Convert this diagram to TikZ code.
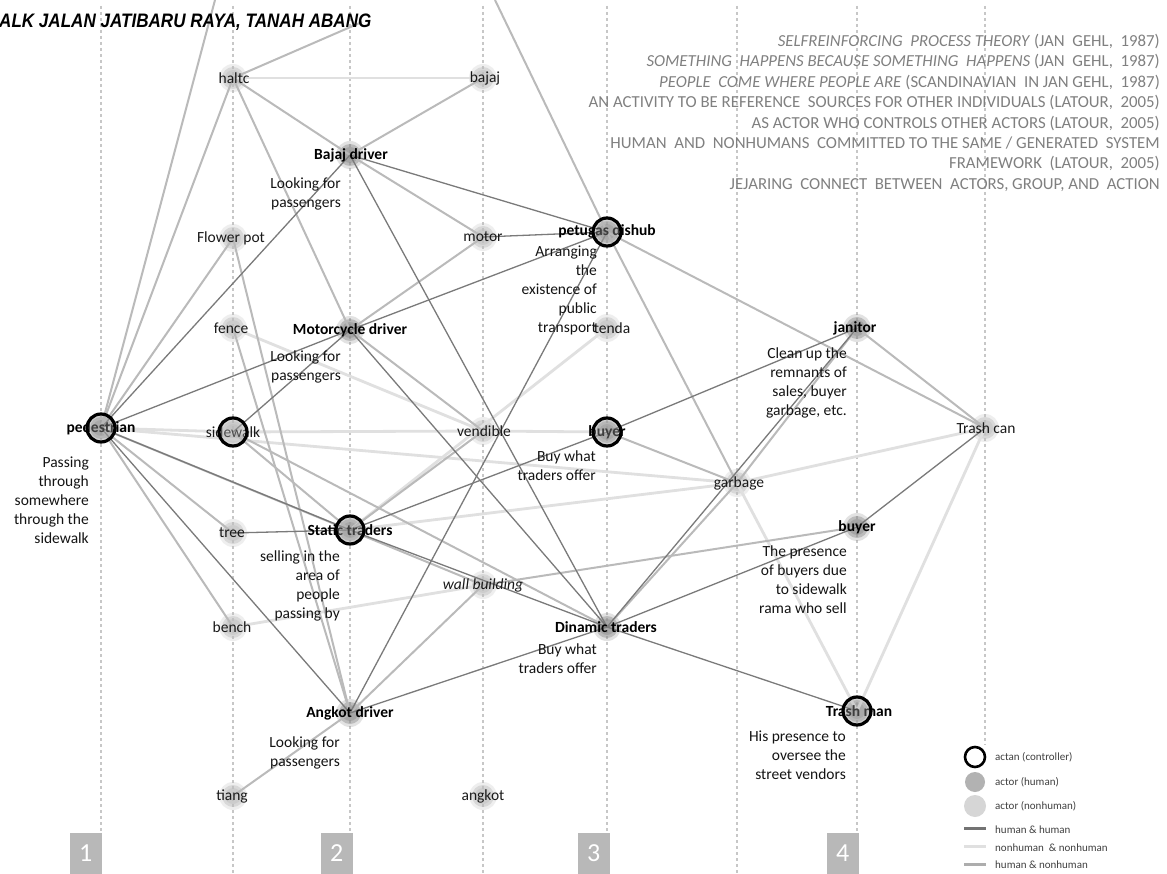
\documentclass[tikz,border=0pt]{standalone}
\usepackage{fontspec}
\setmainfont{Carlito}
\newfontfamily\titlefont{Liberation Sans}
\begin{document}
\begin{tikzpicture}[x=1pt,y=-1pt,
  lbl/.style={font=\fontsize{15.5}{18}\selectfont, inner sep=0pt, text=black!90},
  blbl/.style={font=\fontsize{15.5}{18}\selectfont\bfseries, inner sep=0pt},
  desc/.style={font=\fontsize{15.5}{18.8}\selectfont, align=right, inner sep=0pt, anchor=north east, text=black!92},
  hh/.style={draw=black!52, line width=1.3pt},
  hn/.style={draw=black!27, line width=2pt},
  nn/.style={draw=black!12, line width=2.8pt},
  col/.style={draw=black!22, line width=2.6pt, dash pattern=on 2.6pt off 3.4pt},
  ring/.style={draw=black, line width=3.2pt, fill=black!30, fill opacity=.35},
  numbox/.style={fill=black!28, draw=none, minimum width=32pt, minimum height=41pt, inner sep=0pt, anchor=south east, text=white, font=\fontsize{26}{26}\selectfont},
  legtxt/.style={font=\fontsize{11}{12}\selectfont, text=black!75, anchor=west, inner sep=0pt},
]
\useasboundingbox (0,0) rectangle (1167,874);
\fill[white] (0,0) rectangle (1167,874);

% dotted columns
\foreach \x in {101,233,350,483,607,737,857} \draw[col] (\x,6) -- (\x,874);
\draw[col] (985,6) -- (985,745);

% node centres
\coordinate (haltc) at (233,78);
\coordinate (bajaj) at (483,78);
\coordinate (bdrv) at (350,155);
\coordinate (fpot) at (233,238);
\coordinate (motor) at (483,237);
\coordinate (petugas) at (607,232);
\coordinate (fence) at (233,328);
\coordinate (mdrv) at (350,330);
\coordinate (tenda) at (607,328);
\coordinate (janitor) at (857,328);
\coordinate (ped) at (101,428);
\coordinate (sidewalk) at (233,432);
\coordinate (vendible) at (483,431);
\coordinate (buyerA) at (607,432);
\coordinate (trashcan) at (985,428);
\coordinate (garbage) at (737,483);
\coordinate (tree) at (233,533);
\coordinate (static) at (350,530);
\coordinate (buyerB) at (857,527);
\coordinate (wall) at (483,585);
\coordinate (bench) at (233,627);
\coordinate (dinamic) at (607,627);
\coordinate (angkotdrv) at (350,713);
\coordinate (trashman) at (857,711);
\coordinate (tiang) at (233,796);
\coordinate (angkot) at (483,796);
\coordinate (topA) at (215,0);
\coordinate (topB) at (362,22);
\coordinate (topC) at (495,0);

% blobs
\foreach \c in {bdrv,mdrv,petugas,janitor,ped,buyerA,static,buyerB,dinamic,angkotdrv,trashman} {
  \fill[black!45, opacity=.25] (\c) circle (14);
  \fill[black!45, opacity=.45] (\c) circle (11);
  \fill[black!45, opacity=.45] (\c) circle (8);
}
\foreach \c in {haltc,bajaj,fpot,motor,fence,tenda,sidewalk,vendible,trashcan,garbage,tree,wall,bench,tiang,angkot} {
  \fill[black!25, opacity=.25] (\c) circle (14);
  \fill[black!25, opacity=.45] (\c) circle (11);
  \fill[black!25, opacity=.45] (\c) circle (8);
}

% nonhuman & nonhuman
\draw[nn] (haltc) -- (bajaj);
\draw[nn] (ped) -- (sidewalk);
\draw[nn] (sidewalk) -- (vendible);
\draw[nn] (vendible) -- (buyerA);
\draw[nn] (garbage) -- (trashcan);
\draw[nn] (bench) -- (wall);
\draw[nn] (fence) -- (vendible);
\draw[nn] (tenda) -- (static);
\draw[nn] (trashman) -- (trashcan);
\draw[nn] (trashman) -- (garbage);
\draw[nn] (static) -- (garbage);
\draw[nn] (ped) -- (garbage);

% human & nonhuman
\draw[hn] (haltc) -- (bdrv);
\draw[hn] (haltc) -- (mdrv);
\draw[hn] (haltc) -- (ped);
\draw[hn] (haltc) -- (topB);
\draw[hn] (ped) -- (topA);
\draw[hn] (petugas) -- (topC);
\draw[hn] (bdrv) -- (bajaj);
\draw[hn] (bdrv) -- (motor);
\draw[hn] (mdrv) -- (motor);
\draw[hn] (mdrv) -- (vendible);
\draw[hn] (fpot) -- (ped);
\draw[hn] (fpot) -- (angkotdrv);
\draw[hn] (fence) -- (angkotdrv);
\draw[hn] (petugas) -- (garbage);
\draw[hn] (petugas) -- (trashcan);
\draw[hn] (buyerA) -- (garbage);
\draw[hn] (janitor) -- (trashcan);
\draw[hn] (janitor) -- (garbage);
\draw[hn] (garbage) -- (dinamic);
\draw[hn] (static) -- (vendible);
\draw[hn] (static) -- (sidewalk);
\draw[hn] (sidewalk) -- (dinamic);
\draw[hn] (ped) -- (tree);
\draw[hn] (ped) -- (bench);
\draw[hn] (ped) -- (wall);
\draw[hn] (angkotdrv) -- (tiang);
\draw[hn] (angkotdrv) -- (wall);
\draw[hn] (wall) -- (buyerB);

% human & human
\draw[hh] (ped) -- (bdrv);
\draw[hh] (ped) -- (mdrv);
\draw[hh] (mdrv) -- (petugas);
\draw[hh] (ped) -- (static);
\draw[hh] (static) -- (dinamic);
\draw[hh] (ped) -- (angkotdrv);
\draw[hh] (bdrv) -- (petugas);
\draw[hh] (bdrv) -- (dinamic);
\draw[hh] (mdrv) -- (dinamic);
\draw[hh] (petugas) -- (angkotdrv);
\draw[hh] (motor) -- (petugas);
\draw[hh] (static) -- (buyerA);
\draw[hh] (buyerA) -- (janitor);
\draw[hh] (janitor) -- (dinamic);
\draw[hh] (buyerB) -- (dinamic);
\draw[hh] (buyerB) -- (trashcan);
\draw[hh] (dinamic) -- (trashman);
\draw[hh] (dinamic) -- (angkotdrv);
\draw[hh] (tree) -- (static);
\draw[hh] (mdrv) -- (sidewalk);

% labels
\node[lbl] (haltcL) at (234,78) {haltc};
\node[lbl] (bajajL) at (485,78) {bajaj};
\node[blbl] (bdrvL) at (351,155) {Bajaj driver};
\node[lbl] (fpotL) at (231,238) {Flower pot};
\node[lbl] (motorL) at (483,237) {motor};
\node[blbl] (petugasL) at (607,231) {petugas dishub};
\node[lbl] (fenceL) at (231,328) {fence};
\node[blbl] (mdrvL) at (350,330) {Motorcycle driver};
\node[lbl] (tendaL) at (612,328) {tenda};
\node[blbl] (janitorL) at (855,328) {janitor};
\node[blbl] (pedL) at (101,428) {pedestrian};
\node[lbl] (sidewalkL) at (233,432) {sidewalk};
\node[lbl] (vendibleL) at (484,431) {vendible};
\node[blbl] (buyerAL) at (607,432) {buyer};
\node[lbl] (trashcanL) at (986,428) {Trash can};
\node[lbl] (garbageL) at (739,483) {garbage};
\node[lbl] (treeL) at (232,533) {tree};
\node[blbl] (staticL) at (350,530) {Static traders};
\node[blbl] (buyerBL) at (857,527) {buyer};
\node[lbl, font=\fontsize{15.5}{18}\selectfont\itshape] (wallL) at (483,585) {wall building};
\node[lbl] (benchL) at (232,627) {bench};
\node[blbl] (dinamicL) at (606,627) {Dinamic traders};
\node[blbl] (angkotdrvL) at (350,713) {Angkot driver};
\node[blbl] (trashmanL) at (859,711) {Trash man};
\node[lbl] (tiangL) at (232,796) {tiang};
\node[lbl] (angkotL) at (483,796) {angkot};

% descriptions
\node[desc] (d1) at (341,178) {Looking for\\passengers};
\node[desc] (d2) at (341,351) {Looking for\\passengers};
\node[desc] (d3) at (89,457) {Passing\\through\\somewhere\\through the\\sidewalk};
\node[desc] (d4) at (340,551) {selling in the\\area of\\people\\passing by};
\node[desc] (d5) at (597,246) {Arranging\\the\\existence of\\public\\transport};
\node[desc] (d6) at (596,451) {Buy what\\traders offer};
\node[desc] (d7) at (847,348) {Clean up the\\remnants of\\sales, buyer\\garbage, etc.};
\node[desc] (d8) at (847,546) {The presence\\of buyers due\\to sidewalk\\rama who sell};
\node[desc] (d9) at (597,644) {Buy what\\traders offer};
\node[desc] (d10) at (340,737) {Looking for\\passengers};
\node[desc] (d11) at (846,731) {His presence to\\oversee the\\street vendors};

% actan rings
\foreach \c in {ped,sidewalk,petugas,buyerA,static,trashman} \draw[ring] (\c) circle (14);

% title
\node[font=\titlefont\fontsize{19.5}{22}\selectfont\bfseries\itshape, anchor=base west, inner sep=0pt] (title) at (-1,28) {\scalebox{0.875}[1]{ALK JALAN JATIBARU RAYA, TANAH ABANG}};

% theory block
\node[font=\fontsize{16.8}{20.4}\selectfont, text=black!50, align=right, anchor=north east, inner sep=0pt] (theory) at (1160,34)
{\textit{SELFREINFORCING\ \ PROCESS THEORY} (JAN\ \ GEHL,\ \ 1987)\\
\textit{SOMETHING\ \ HAPPENS BECAUSE SOMETHING\ \ HAPPENS} (JAN\ \ GEHL,\ \ 1987)\\
\textit{PEOPLE\ \ COME WHERE PEOPLE ARE} (SCANDINAVIAN\ \ IN JAN GEHL,\ \ 1987)\\
AN ACTIVITY TO BE REFERENCE\ \ SOURCES FOR OTHER INDIVIDUALS (LATOUR,\ \ 2005)\\
AS ACTOR WHO CONTROLS OTHER ACTORS (LATOUR,\ \ 2005)\\
HUMAN\ \ AND\ \ NONHUMANS\ \ COMMITTED TO THE SAME / GENERATED\ \ SYSTEM\\
FRAMEWORK\ \ (LATOUR,\ \ 2005)\\
JEJARING\ \ CONNECT\ \ BETWEEN\ \ ACTORS, GROUP, AND\ \ ACTION};

% number boxes
\node[numbox] (n1) at (102,874) {1};
\node[numbox] (n2) at (353,874) {2};
\node[numbox] (n3) at (610,874) {3};
\node[numbox] (n4) at (859,874) {4};

% legend
\coordinate (lg1) at (975,757);
\coordinate (lg2) at (975,782);
\coordinate (lg3) at (975,806);
\draw[draw=black, line width=2.6pt] (lg1) circle (10);
\fill[black!30] (lg2) circle (10);
\fill[black!16] (lg3) circle (11);
\coordinate (la1) at (964,828); \coordinate (lb1) at (986,828);
\coordinate (la2) at (964,846); \coordinate (lb2) at (986,846);
\coordinate (la3) at (964,864); \coordinate (lb3) at (986,864);
\draw[draw=black!55, line width=3pt] (la1) -- (lb1);
\draw[draw=black!12, line width=3pt] (la2) -- (lb2);
\draw[draw=black!32, line width=3pt] (la3) -- (lb3);
\node[legtxt] (t1) at (995,757) {actan (controller)};
\node[legtxt] (t2) at (995,782) {actor (human)};
\node[legtxt] (t3) at (995,806) {actor (nonhuman)};
\node[legtxt] (t4) at (995,830) {human \& human};
\node[legtxt] (t5) at (995,848) {nonhuman\ \ \& nonhuman};
\node[legtxt] (t6) at (995,865) {human \& nonhuman};
\end{tikzpicture}
\end{document}
